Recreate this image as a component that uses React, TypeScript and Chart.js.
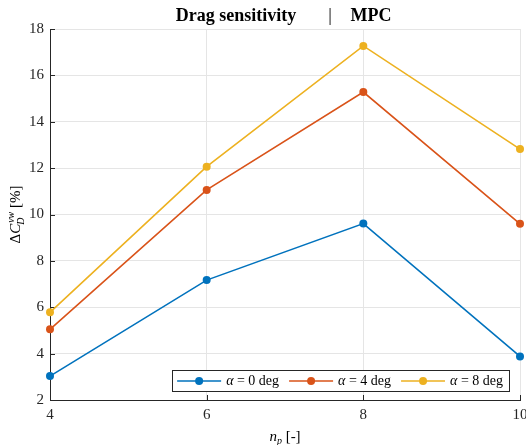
import React, { useEffect, useRef } from "react";
import { Chart, registerables } from "chart.js";

Chart.register(...registerables);

const nP = [4, 6, 8, 10];
const alpha0 = [3.03, 7.17, 9.61, 3.88];
const alpha4 = [5.05, 11.06, 15.28, 9.6];
const alpha8 = [5.78, 12.06, 17.27, 12.82];
const alphaLabels = ["0", "4", "8"];
const seriesColors = ["#0072BD", "#D95319", "#EDB120"];
const titleLeft = "Drag sensitivity";
const titleSep = "|";
const titleRight = "MPC";

const SERIF = "'Liberation Serif', 'DejaVu Serif', serif";
const TEXT = "#262626";

const decorPlugin = {
  id: "decor",
  beforeDatasetsDraw(chart: any) {
    const { ctx, chartArea: a, scales } = chart;
    const x = scales.x;
    const y = scales.y;
    ctx.save();
    ctx.strokeStyle = TEXT;
    ctx.lineWidth = 1;
    y.ticks.forEach((t: any) => {
      const py = Math.round(y.getPixelForValue(t.value)) + 0.5;
      ctx.beginPath();
      ctx.moveTo(a.left, py);
      ctx.lineTo(a.left + 5, py);
      ctx.stroke();
    });
    x.ticks.forEach((t: any) => {
      const px = Math.round(x.getPixelForValue(t.value)) + 0.5;
      ctx.beginPath();
      ctx.moveTo(px, a.bottom);
      ctx.lineTo(px, a.bottom - 5);
      ctx.stroke();
    });
    ctx.restore();
  },
  afterDatasetsDraw(chart: any) {
    const { ctx, chartArea: a } = chart;
    const cx = (a.left + a.right) / 2;
    const cy = (a.top + a.bottom) / 2;
    ctx.save();
    ctx.fillStyle = "#000";
    ctx.textBaseline = "alphabetic";

    // Title
    ctx.font = `bold 18px ${SERIF}`;
    ctx.textAlign = "center";
    ctx.fillText(titleLeft, cx - 49, 21);
    ctx.font = `18px ${SERIF}`;
    ctx.fillText(titleSep, cx + 45, 21);
    ctx.font = `bold 18px ${SERIF}`;
    ctx.fillText(titleRight, cx + 86, 21);

    // X title: n_p [-]
    ctx.textAlign = "left";
    const xParts = [
      { t: "n", f: `italic 15px ${SERIF}`, dy: 0 },
      { t: "p", f: `italic 10px ${SERIF}`, dy: 3 },
      { t: " [-]", f: `15px ${SERIF}`, dy: 0 },
    ];
    let w = 0;
    xParts.forEach((p) => {
      ctx.font = p.f;
      w += ctx.measureText(p.t).width;
    });
    let px = cx - w / 2;
    xParts.forEach((p) => {
      ctx.font = p.f;
      ctx.fillText(p.t, px, 441 + p.dy);
      px += ctx.measureText(p.t).width;
    });

    // Y title: ΔC_D^{vw} [%]
    ctx.save();
    ctx.translate(20, cy);
    ctx.rotate(-Math.PI / 2);
    const big = `15px ${SERIF}`;
    const bigI = `italic 15px ${SERIF}`;
    const small = `italic 10px ${SERIF}`;
    ctx.font = big;
    const wD = ctx.measureText("Δ").width;
    ctx.font = bigI;
    const wC = ctx.measureText("C").width;
    ctx.font = small;
    const wSup = ctx.measureText("vw").width;
    const wSub = ctx.measureText("D").width;
    ctx.font = big;
    const wUnit = ctx.measureText(" [%]").width;
    const total = wD + wC + Math.max(wSup, wSub) + 1 + wUnit;
    let yx = -total / 2;
    ctx.font = big;
    ctx.fillText("Δ", yx, 0);
    yx += wD;
    ctx.font = bigI;
    ctx.fillText("C", yx, 0);
    yx += wC;
    ctx.font = small;
    ctx.fillText("vw", yx + 1, -6);
    ctx.fillText("D", yx - 1, 4);
    yx += Math.max(wSup, wSub) + 1;
    ctx.font = big;
    ctx.fillText(" [%]", yx, 0);
    ctx.restore();

    // Legend
    const fs = 14;
    const lineLen = 44;
    const entries = alphaLabels.map((l, i) => {
      ctx.font = `italic ${fs}px ${SERIF}`;
      const wa = ctx.measureText("α").width;
      ctx.font = `${fs}px ${SERIF}`;
      const wr = ctx.measureText(` = ${l} deg`).width;
      return { l, c: seriesColors[i], wa, wr };
    });
    const padL = 5, padR = 6, gapLT = 5, gapE = 10;
    let totalW = padL + padR;
    entries.forEach((e, i) => {
      totalW += lineLen + gapLT + e.wa + e.wr + (i < entries.length - 1 ? gapE : 0);
    });
    const boxR = a.right - 11;
    const boxB = a.bottom - 9;
    const boxH = 21;
    const boxL = boxR - totalW;
    const boxT = boxB - boxH;
    ctx.fillStyle = "#fff";
    ctx.fillRect(boxL, boxT, totalW, boxH);
    ctx.strokeStyle = TEXT;
    ctx.lineWidth = 1;
    ctx.strokeRect(Math.round(boxL) + 0.5, Math.round(boxT) + 0.5, Math.round(totalW), boxH);
    let lx = boxL + padL;
    const ly = boxT + boxH / 2 + 0.5;
    entries.forEach((e) => {
      ctx.strokeStyle = e.c;
      ctx.lineWidth = 1.6;
      ctx.beginPath();
      ctx.moveTo(lx, ly);
      ctx.lineTo(lx + lineLen, ly);
      ctx.stroke();
      ctx.fillStyle = e.c;
      ctx.beginPath();
      ctx.arc(lx + lineLen / 2, ly, 4, 0, Math.PI * 2);
      ctx.fill();
      lx += lineLen + gapLT;
      ctx.fillStyle = "#000";
      ctx.textBaseline = "middle";
      ctx.font = `italic ${fs}px ${SERIF}`;
      ctx.fillText("α", lx, ly);
      lx += e.wa;
      ctx.font = `${fs}px ${SERIF}`;
      ctx.fillText(` = ${e.l} deg`, lx, ly);
      lx += e.wr + gapE;
    });
    ctx.restore();
  },
};

export default function App() {
  const ref = useRef<HTMLCanvasElement>(null);
  useEffect(() => {
    document.body.style.margin = "0";
    const canvas = ref.current;
    if (!canvas) return;
    const series = [alpha0, alpha4, alpha8];
    const chart = new Chart(canvas, {
      type: "line",
      data: {
        labels: nP,
        datasets: series.map((vals, i) => ({
          label: `α = ${alphaLabels[i]} deg`,
          data: nP.map((n, j) => ({ x: n, y: vals[j] })),
          borderColor: seriesColors[i],
          backgroundColor: seriesColors[i],
          borderWidth: 1.6,
          pointRadius: 4,
          pointHoverRadius: 4,
          pointBorderWidth: 0,
          tension: 0,
          clip: false as any,
        })),
      },
      options: {
        animation: false,
        responsive: false,
        events: [],
        layout: { padding: { left: 0, right: 6, top: 29, bottom: 0 } },
        plugins: {
          legend: { display: false },
          title: { display: false },
          tooltip: { enabled: false },
        },
        scales: {
          x: {
            type: "linear",
            min: 4,
            max: 10,
            ticks: {
              stepSize: 2,
              padding: 6,
              color: "#262626",
              font: { family: SERIF, size: 15 },
              maxRotation: 0,
            },
            grid: { color: "#e5e5e5", lineWidth: 1, drawTicks: false },
            border: { display: true, color: "#262626", width: 1 },
            afterFit(scale: any) {
              scale.height = 45;
              scale.paddingLeft = 0;
              scale.paddingRight = 0;
            },
          },
          y: {
            min: 2,
            max: 18,
            ticks: {
              stepSize: 2,
              padding: 6,
              color: "#262626",
              font: { family: SERIF, size: 15 },
            },
            grid: { color: "#e5e5e5", lineWidth: 1, drawTicks: false },
            border: { display: true, color: "#262626", width: 1 },
            afterFit(scale: any) {
              scale.width = 50;
              scale.paddingTop = 0;
              scale.paddingBottom = 0;
            },
          },
        },
      },
      plugins: [decorPlugin],
    });
    return () => chart.destroy();
  }, []);
  return (
    <div style={{ width: 526, height: 445, overflow: "hidden", background: "#fff" }}>
      <canvas ref={ref} width={526} height={445} style={{ display: "block" }} />
    </div>
  );
}
